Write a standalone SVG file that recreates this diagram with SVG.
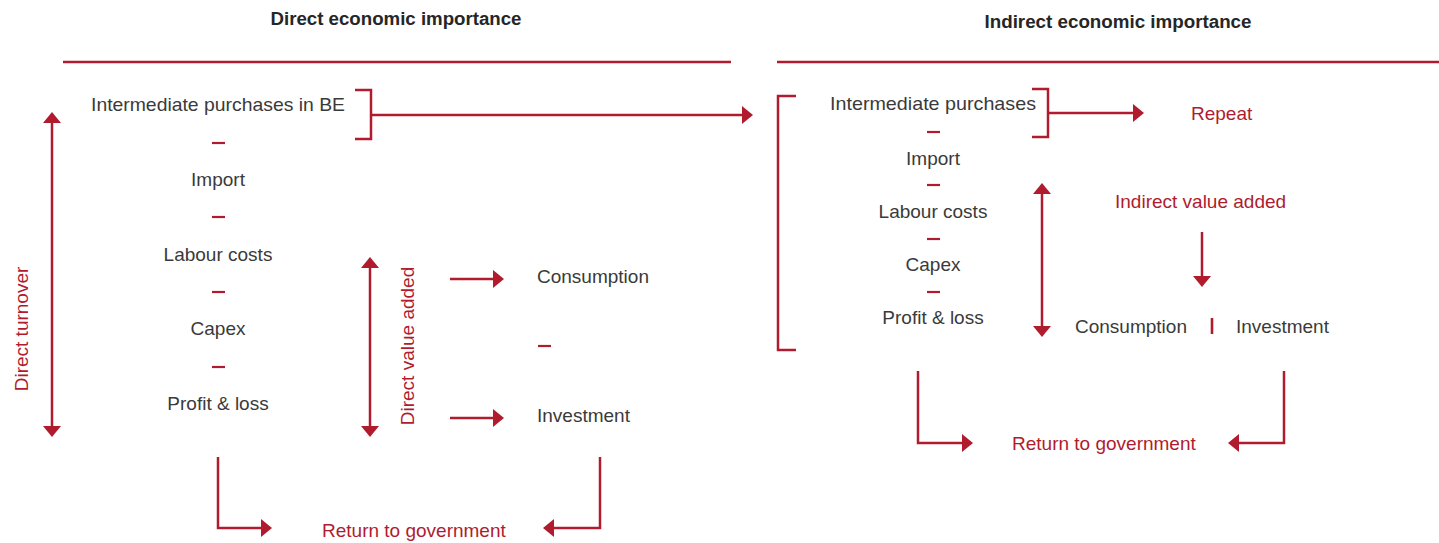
<svg xmlns="http://www.w3.org/2000/svg" width="1439" height="543" viewBox="0 0 1439 543">
  <defs>
    <style>
      .title { font-family: "Liberation Sans", Arial, sans-serif; font-weight: bold; font-size: 18px; fill: #262626; text-anchor: middle; }
      .item { font-family: "Liberation Sans", Arial, sans-serif; font-size: 19px; fill: #3a3a3a; }
      .mid { text-anchor: middle; }
      .red { fill: #b01c2e; }
      .rule { stroke: #b01c2e; stroke-width: 2.5; fill: none; }
      .dash { stroke: #b01c2e; stroke-width: 2.2; fill: none; }
      .link { stroke: #b01c2e; stroke-width: 2.5; fill: none; }
      .arrow { marker-end: url(#head); }
      .both { marker-start: url(#head); marker-end: url(#head); }
    </style>
    <marker id="head" markerUnits="userSpaceOnUse" markerWidth="12" markerHeight="20" viewBox="0 0 12 20" refX="9" refY="10" orient="auto-start-reverse">
      <path d="M0,1 L11,10 L0,19 Z" fill="#b01c2e"/>
    </marker>
  </defs>
  <rect width="1439" height="543" fill="#ffffff"/>

  <!-- Section headings and rules -->
  <g id="heading-direct">
    <text class="title" x="396" y="25" textLength="251" lengthAdjust="spacingAndGlyphs">Direct economic importance</text>
    <line class="rule" x1="63" y1="62" x2="731" y2="62"/>
  </g>
  <g id="heading-indirect">
    <text class="title" x="1118" y="28" textLength="267" lengthAdjust="spacingAndGlyphs">Indirect economic importance</text>
    <line class="rule" x1="777" y1="62" x2="1439" y2="62"/>
  </g>

  <!-- Direct cost breakdown -->
  <g id="direct-breakdown">
    <text class="item mid" x="218" y="111" textLength="254" lengthAdjust="spacingAndGlyphs">Intermediate purchases in BE</text>
    <line class="dash" x1="212" y1="143" x2="225" y2="143"/>
    <text class="item mid" x="218" y="186">Import</text>
    <line class="dash" x1="212" y1="217" x2="225" y2="217"/>
    <text class="item mid" x="218" y="261">Labour costs</text>
    <line class="dash" x1="212" y1="292" x2="225" y2="292"/>
    <text class="item mid" x="218" y="335">Capex</text>
    <line class="dash" x1="212" y1="367" x2="225" y2="367"/>
    <text class="item mid" x="218" y="410">Profit &amp; loss</text>
    <path class="rule" d="M355,90 H371 V139 H355"/>
  </g>

  <g id="direct-turnover">
    <text class="item red mid" transform="translate(28,329) rotate(-90)">Direct turnover</text>
  </g>
  <g id="direct-value-added">
    <text class="item red mid" transform="translate(414,346) rotate(-90)">Direct value added</text>
  </g>

  <g id="direct-spending">
    <text class="item" x="537" y="283">Consumption</text>
    <line class="dash" x1="538" y1="346" x2="551" y2="346"/>
    <text class="item" x="537" y="422">Investment</text>
  </g>

  <g id="direct-return">
    <text class="item red" x="322" y="537">Return to government</text>
  </g>

  <!-- Indirect cost breakdown -->
  <g id="indirect-breakdown">
    <path class="rule" d="M796,96 H778 V350 H796"/>
    <text class="item mid" x="933" y="110" textLength="206" lengthAdjust="spacingAndGlyphs">Intermediate purchases</text>
    <line class="dash" x1="927" y1="132" x2="940" y2="132"/>
    <text class="item mid" x="933" y="165">Import</text>
    <line class="dash" x1="927" y1="185" x2="940" y2="185"/>
    <text class="item mid" x="933" y="218">Labour costs</text>
    <line class="dash" x1="927" y1="239" x2="940" y2="239"/>
    <text class="item mid" x="933" y="271">Capex</text>
    <line class="dash" x1="927" y1="292" x2="940" y2="292"/>
    <text class="item mid" x="933" y="324">Profit &amp; loss</text>
    <path class="rule" d="M1032,89 H1048 V137 H1032"/>
  </g>

  <g id="repeat">
    <text class="item red" x="1191" y="120">Repeat</text>
  </g>

  <g id="indirect-value-added">
    <text class="item red" x="1115" y="208">Indirect value added</text>
  </g>

  <g id="indirect-spending">
    <text class="item" x="1075" y="333">Consumption</text>
    <line class="dash" x1="1212" y1="318" x2="1212" y2="334" style="stroke-width:2.6"/>
    <text class="item" x="1236" y="333">Investment</text>
  </g>

  <g id="indirect-return">
    <text class="item red" x="1012" y="450">Return to government</text>
  </g>

  <!-- Connectors -->
  <g id="connectors">
    <!-- direct side -->
    <line class="link arrow" x1="371" y1="115" x2="751" y2="115"/>
    <line class="link both" x1="52" y1="114" x2="52" y2="435"/>
    <line class="link both" x1="370" y1="259" x2="370" y2="435"/>
    <line class="link arrow" x1="450" y1="279" x2="502" y2="279"/>
    <line class="link arrow" x1="450" y1="418" x2="502" y2="418"/>
    <path class="link arrow" d="M218,457 V528 H270"/>
    <path class="link arrow" d="M600,457 V528 H545"/>
    <!-- indirect side -->
    <line class="link arrow" x1="1048" y1="113" x2="1142" y2="113"/>
    <line class="link both" x1="1042" y1="185" x2="1042" y2="335"/>
    <line class="link arrow" x1="1202" y1="232" x2="1202" y2="285"/>
    <path class="link arrow" d="M918,371 V443 H971"/>
    <path class="link arrow" d="M1284,371 V443 H1230"/>
  </g>
</svg>
